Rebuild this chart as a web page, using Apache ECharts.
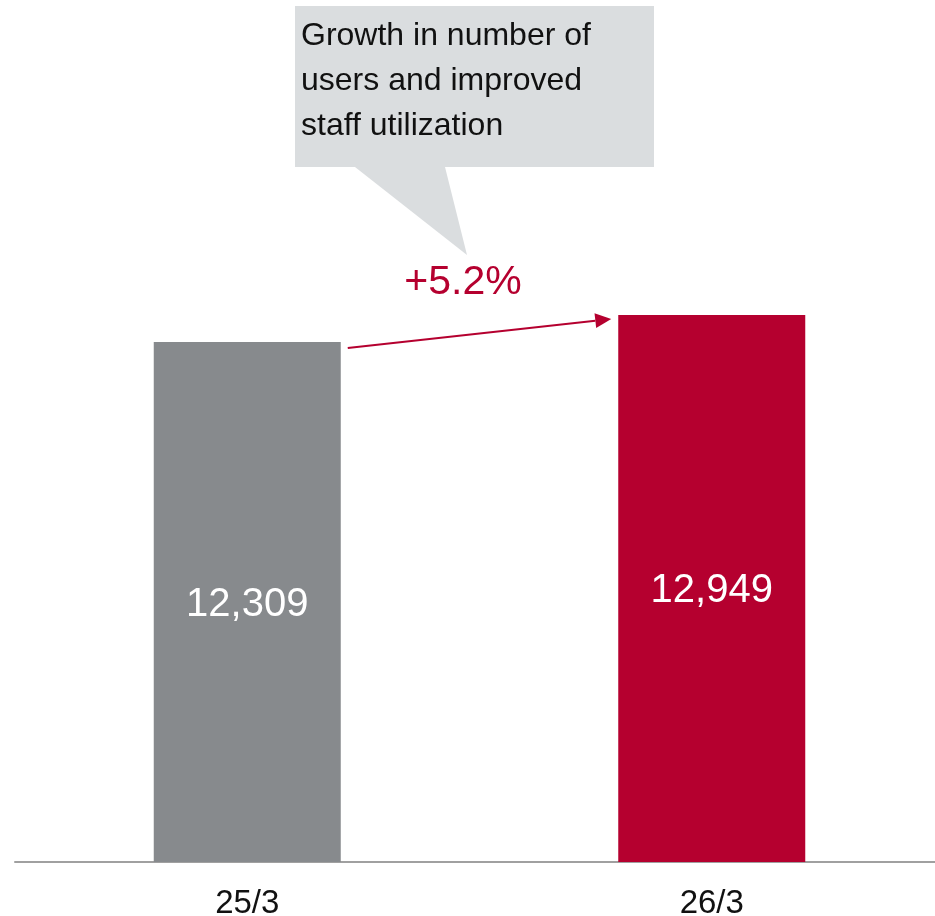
<!DOCTYPE html>
<html>
<head>
<meta charset="utf-8">
<script src="https://cdn.jsdelivr.net/npm/echarts@6/dist/echarts.min.js"></script>
<style>html,body{margin:0;padding:0;background:#fff;}#c{width:935px;height:916px;}</style>
</head>
<body>
<div id="c"></div>
<script>
const categories = ['25/3', '26/3'];
const values = [12309, 12949];
const barColors = ['#878a8d', '#b5002f'];
const growthLabel = '+5.2%';
const calloutLines = ['Growth in number of', 'users and improved', 'staff utilization'];

const FONT = '"Liberation Sans", Arial, Helvetica, sans-serif';
const chart = echarts.init(document.getElementById('c'), null, {renderer: 'canvas'});
const BAR_W = 187;
chart.setOption({
  animation: false,
  backgroundColor: '#ffffff',
  grid: {left: 15, width: 929, top: 17, bottom: 54, containLabel: false, outerBoundsMode: 'none'},
  xAxis: {
    type: 'category',
    data: categories,
    axisLine: {show: true, lineStyle: {color: '#a0a0a0', width: 2}},
    axisTick: {show: false},
    axisLabel: {color: '#111', fontSize: 33, fontFamily: FONT, margin: 25}
  },
  yAxis: {
    type: 'value', min: 0, max: 20000,
    show: false, splitLine: {show: false}
  },
  series: [{
    type: 'bar',
    barWidth: BAR_W,
    data: values.map((v, i) => ({value: v, itemStyle: {color: barColors[i]}})),
    label: {
      show: true, position: 'inside', offset: [0, 3], color: '#fff', fontSize: 40, fontFamily: FONT,
      formatter: p => p.value.toLocaleString('en-US')
    }
  }]
});

const p1 = chart.convertToPixel({seriesIndex: 0}, [0, values[0]]);
const p2 = chart.convertToPixel({seriesIndex: 0}, [1, values[1]]);
const x1 = p1[0] + BAR_W / 2 + 7, y1 = p1[1] + 6;
const x2 = p2[0] - BAR_W / 2 - 7, y2 = p2[1] + 4;
const ang = Math.atan2(y2 - y1, x2 - x1);
const L = 16, W = 7.5;
const bx = x2 - L * Math.cos(ang), by = y2 - L * Math.sin(ang);
const head = [
  [x2, y2],
  [bx + W * Math.sin(ang), by - W * Math.cos(ang)],
  [bx - W * Math.sin(ang), by + W * Math.cos(ang)]
];

chart.setOption({
  graphic: [
    {type: 'line', shape: {x1: x1, y1: y1, x2: bx, y2: by}, style: {stroke: '#b5002f', lineWidth: 2}},
    {type: 'polygon', shape: {points: head}, style: {fill: '#b5002f'}},
    {type: 'polygon', shape: {points: [[295, 6], [654, 6], [654, 167], [445, 167], [467, 255], [355, 167], [295, 167]]}, style: {fill: '#dadddf'}},
    {type: 'text', left: 301, top: 14, style: {text: calloutLines.join('\n'), font: '32px ' + FONT, lineHeight: 45, fill: '#111'}},
    {type: 'text', x: 463, y: 283, style: {text: growthLabel, font: '41px ' + FONT, fill: '#b5002f', textAlign: 'center', textVerticalAlign: 'middle'}}
  ]
});
</script>
</body>
</html>
